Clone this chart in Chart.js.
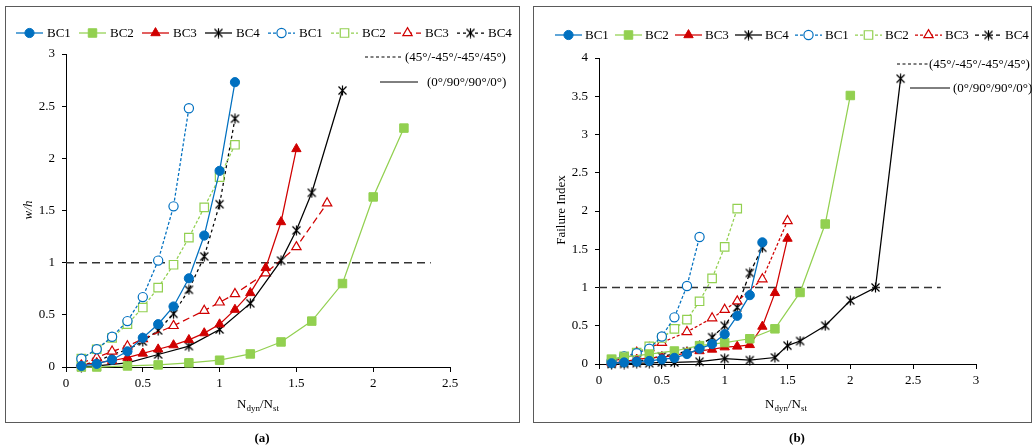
<!DOCTYPE html>
<html>
<head>
<meta charset="utf-8">
<script src="https://cdn.jsdelivr.net/npm/chart.js@4.4.1/dist/chart.umd.min.js"></script>
<style>
  html, body { margin: 0; padding: 0; background: #fff; }
  body { width: 1036px; height: 448px; position: relative; overflow: hidden;
         font-family: 'Liberation Serif', 'Times New Roman', serif; }
  .box { position: absolute; border: 1.5px solid #5a5a5a; box-sizing: border-box; }
  canvas { position: absolute; top: 0; }
  .tag { position: absolute; font-weight: bold; font-size: 13px; transform: translateX(-50%); color: #000; }
</style>
</head>
<body>
<div class="box" style="left:5px;top:6px;width:515px;height:417px"></div>
<div class="box" style="left:533px;top:6px;width:499px;height:417px"></div>
<canvas id="chartA" width="526" height="448" style="left:0"></canvas>
<canvas id="chartB" width="510" height="448" style="left:526px"></canvas>
<div class="tag" style="left:262px;top:430px">(a)</div>
<div class="tag" style="left:797px;top:430px">(b)</div>

<script>
// ---- Panel (a): normalised deflection w/h versus load ratio ----
// cross-ply (0°/90°/90°/0°), solid lines
const a_bc1_x = [0.1, 0.2, 0.3, 0.4, 0.5, 0.6, 0.7, 0.8, 0.9, 1.0, 1.1];
const a_bc1_y = [0.01, 0.03, 0.07, 0.15, 0.28, 0.41, 0.58, 0.85, 1.26, 1.88, 2.73];
const a_bc2_x = [0.1, 0.2, 0.4, 0.6, 0.8, 1.0, 1.2, 1.4, 1.6, 1.8, 2.0, 2.2];
const a_bc2_y = [0.0, 0.0, 0.01, 0.02, 0.04, 0.065, 0.125, 0.24, 0.44, 0.8, 1.63, 2.29];
const a_bc3_x = [0.1, 0.2, 0.3, 0.4, 0.5, 0.6, 0.7, 0.8, 0.9, 1.0, 1.1, 1.2, 1.3, 1.4, 1.5];
const a_bc3_y = [0.02, 0.04, 0.06, 0.09, 0.13, 0.17, 0.21, 0.26, 0.325, 0.41, 0.55, 0.71, 0.95, 1.39, 2.09];
const a_bc4_x = [0.1, 0.2, 0.4, 0.6, 0.8, 1.0, 1.2, 1.4, 1.5, 1.6, 1.8];
const a_bc4_y = [0.0, 0.01, 0.04, 0.12, 0.2, 0.36, 0.61, 1.02, 1.31, 1.67, 2.65];
// angle-ply (45°/-45°/-45°/45°), dashed lines
const a_bc1d_x = [0.1, 0.2, 0.3, 0.4, 0.5, 0.6, 0.7, 0.8];
const a_bc1d_y = [0.08, 0.17, 0.29, 0.44, 0.67, 1.02, 1.54, 2.48];
const a_bc2d_x = [0.1, 0.2, 0.3, 0.4, 0.5, 0.6, 0.7, 0.8, 0.9, 1.0, 1.1];
const a_bc2d_y = [0.08, 0.17, 0.28, 0.41, 0.57, 0.76, 0.98, 1.24, 1.53, 1.82, 2.13];
const a_bc3d_x = [0.1, 0.2, 0.3, 0.4, 0.5, 0.7, 0.9, 1.0, 1.1, 1.3, 1.5, 1.7];
const a_bc3d_y = [0.04, 0.09, 0.15, 0.2, 0.27, 0.395, 0.54, 0.62, 0.70, 0.90, 1.15, 1.57];
const a_bc4d_x = [0.1, 0.2, 0.3, 0.4, 0.5, 0.6, 0.7, 0.8, 0.9, 1.0, 1.1];
const a_bc4d_y = [0.02, 0.05, 0.12, 0.165, 0.245, 0.35, 0.51, 0.74, 1.06, 1.56, 2.38];

// ---- Panel (b): failure index versus load ratio ----
const b_bc1_x = [0.1, 0.2, 0.3, 0.4, 0.5, 0.6, 0.7, 0.8, 0.9, 1.0, 1.1, 1.2, 1.3];
const b_bc1_y = [0.01, 0.02, 0.03, 0.04, 0.06, 0.08, 0.13, 0.2, 0.26, 0.39, 0.63, 0.9, 1.59];
const b_bc2_x = [0.1, 0.2, 0.4, 0.6, 0.8, 1.0, 1.2, 1.4, 1.6, 1.8, 2.0];
const b_bc2_y = [0.06, 0.09, 0.13, 0.17, 0.24, 0.28, 0.33, 0.46, 0.935, 1.83, 3.51];
const b_bc3_x = [0.1, 0.2, 0.3, 0.4, 0.5, 0.6, 0.7, 0.8, 0.9, 1.0, 1.1, 1.2, 1.3, 1.4, 1.5];
const b_bc3_y = [0.01, 0.03, 0.06, 0.08, 0.09, 0.11, 0.15, 0.17, 0.19, 0.22, 0.23, 0.25, 0.49, 0.93, 1.64];
const b_bc4_x = [0.1, 0.2, 0.3, 0.4, 0.5, 0.6, 0.8, 1.0, 1.2, 1.4, 1.5, 1.6, 1.8, 2.0, 2.2, 2.4];
const b_bc4_y = [0.0, 0.0, 0.01, 0.01, 0.02, 0.02, 0.03, 0.07, 0.05, 0.085, 0.24, 0.3, 0.5, 0.83, 1.0, 3.73];
const b_bc1d_x = [0.1, 0.2, 0.3, 0.4, 0.5, 0.6, 0.7, 0.8];
const b_bc1d_y = [0.04, 0.1, 0.14, 0.2, 0.36, 0.61, 1.02, 1.66];
const b_bc2d_x = [0.1, 0.2, 0.3, 0.4, 0.5, 0.6, 0.7, 0.8, 0.9, 1.0, 1.1];
const b_bc2d_y = [0.06, 0.1, 0.15, 0.23, 0.34, 0.46, 0.58, 0.82, 1.12, 1.53, 2.03];
const b_bc3d_x = [0.1, 0.2, 0.3, 0.4, 0.5, 0.7, 0.9, 1.0, 1.1, 1.3, 1.5];
const b_bc3d_y = [0.03, 0.08, 0.15, 0.21, 0.28, 0.42, 0.6, 0.71, 0.82, 1.11, 1.87];
const b_bc4d_x = [0.1, 0.2, 0.3, 0.4, 0.5, 0.6, 0.7, 0.8, 0.9, 1.0, 1.1, 1.2, 1.3];
const b_bc4d_y = [0.01, 0.02, 0.03, 0.07, 0.1, 0.13, 0.165, 0.24, 0.35, 0.5, 0.74, 1.19, 1.52];

// threshold line (value 1) and where it stops on each panel
const limitLevel = 1;
const a_limitEnd = 2.375;
const b_limitEnd = 2.72;

// labels and ticks
const seriesNames = ['BC1', 'BC2', 'BC3', 'BC4', 'BC1', 'BC2', 'BC3', 'BC4'];
const layupNames = ['(45°/-45°/-45°/45°)', '(0°/90°/90°/0°)'];
const a_xTicks = [0, 0.5, 1, 1.5, 2, 2.5];
const a_yTicks = [0, 0.5, 1, 1.5, 2, 2.5, 3];
const b_xTicks = [0, 0.5, 1, 1.5, 2, 2.5, 3];
const b_yTicks = [0, 0.5, 1, 1.5, 2, 2.5, 3, 3.5, 4];
const a_yTitle = 'w/h';
const b_yTitle = 'Failure Index';

// ---- styling ----
const FONT = "'Liberation Serif', 'Times New Roman', serif";
Chart.defaults.font.family = FONT;
Chart.defaults.font.size = 13;
Chart.defaults.color = '#000';

const BLUE = '#0070C0', GREEN = '#92D050', RED = '#D00000', BLACK = '#000000';

function asteriskMarker() {
  const c = document.createElement('canvas');
  c.width = 11; c.height = 11;
  const g = c.getContext('2d');
  g.strokeStyle = '#000';
  g.lineWidth = 1.2;
  g.beginPath();
  g.moveTo(1.5, 1.5); g.lineTo(9.5, 9.5);
  g.moveTo(9.5, 1.5); g.lineTo(1.5, 9.5);
  g.moveTo(5.5, 0.5); g.lineTo(5.5, 10.5);
  g.stroke();
  return c;
}
const STAR = asteriskMarker();

function styleSet(redDash, blackDash) {
  return [
    { color: BLUE,  marker: 'circle',   r: 4.6, open: false, dash: [] },
    { color: GREEN, marker: 'rect',     r: 6.0, open: false, dash: [] },
    { color: RED,   marker: 'triangle', r: 5.4, open: false, dash: [] },
    { color: BLACK, marker: STAR,       r: 5.0, open: false, dash: [] },
    { color: BLUE,  marker: 'circle',   r: 4.6, open: true,  dash: [3, 2] },
    { color: GREEN, marker: 'rect',     r: 6.0, open: true,  dash: [3, 2] },
    { color: RED,   marker: 'triangle', r: 5.4, open: true,  dash: redDash },
    { color: BLACK, marker: STAR,       r: 5.0, open: true,  dash: blackDash }
  ];
}

function series(xs, ys, st, label) {
  return {
    label: label,
    data: xs.map((x, i) => ({ x: x, y: ys[i] })),
    showLine: true,
    borderColor: st.color,
    borderWidth: 1.25,
    borderDash: st.dash,
    pointStyle: st.marker,
    pointRadius: st.r,
    pointHoverRadius: st.r,
    pointBackgroundColor: st.open ? '#ffffff' : st.color,
    pointBorderColor: st.color,
    pointBorderWidth: st.open ? 1.2 : 1,
    tension: 0,
    clip: false,
    order: st.open ? 2 : 1
  };
}

function limitLine(xEnd) {
  return {
    label: 'limit',
    data: [{ x: 0, y: limitLevel }, { x: xEnd, y: limitLevel }],
    showLine: true,
    borderColor: '#333',
    borderWidth: 1.5,
    borderDash: [8, 5],
    pointRadius: 0,
    clip: false,
    order: 10
  };
}

function drawMarker(ctx, st, x, y) {
  ctx.save();
  ctx.setLineDash([]);
  ctx.fillStyle = st.open ? '#fff' : st.color;
  ctx.strokeStyle = st.color;
  ctx.lineWidth = st.open ? 1.2 : 1;
  Chart.helpers.drawPoint(ctx, { pointStyle: st.marker, radius: st.r, rotation: 0, borderWidth: ctx.lineWidth }, x, y);
  ctx.restore();
}

// legend row, layup key, axis titles
const panelDecor = {
  id: 'panelDecor',
  afterDraw(chart, args, o) {
    const ctx = chart.ctx;
    ctx.save();
    ctx.textBaseline = 'middle';
    ctx.fillStyle = '#000';
    ctx.font = '13px ' + FONT;

    o.styles.forEach((st, i) => {
      const x0 = o.rowX + i * o.rowStep;
      ctx.strokeStyle = st.color;
      ctx.lineWidth = 1.25;
      ctx.setLineDash(st.dash);
      ctx.beginPath();
      ctx.moveTo(x0, o.rowY);
      ctx.lineTo(x0 + o.lineLen, o.rowY);
      ctx.stroke();
      drawMarker(ctx, st, x0 + o.lineLen / 2, o.rowY);
      ctx.fillStyle = '#000';
      ctx.textAlign = 'left';
      ctx.fillText(seriesNames[i], x0 + o.lineLen + o.textGap, o.rowY + 0.5);
    });

    // layup key
    o.keys.forEach((k, i) => {
      ctx.strokeStyle = '#000';
      ctx.lineWidth = 1;
      ctx.setLineDash(i === 0 ? [3, 2.5] : []);
      ctx.beginPath();
      ctx.moveTo(k.x0, k.y);
      ctx.lineTo(k.x1, k.y);
      ctx.stroke();
      ctx.setLineDash([]);
      ctx.fillText(layupNames[i], k.tx, k.y + 0.5);
    });

    // x title with subscripts
    const parts = [['N', false], ['dyn', true], ['/N', false], ['st', true]];
    const big = '13px ' + FONT, small = '9px ' + FONT;
    let w = 0;
    parts.forEach(p => { ctx.font = p[1] ? small : big; w += ctx.measureText(p[0]).width; });
    let cx = o.xTitle.x - w / 2;
    parts.forEach(p => {
      ctx.font = p[1] ? small : big;
      ctx.fillText(p[0], cx, o.xTitle.y + (p[1] ? 3.5 : 0));
      cx += ctx.measureText(p[0]).width;
    });

    // y title
    ctx.translate(o.yTitle.x, o.yTitle.y);
    ctx.rotate(-Math.PI / 2);
    ctx.textAlign = 'center';
    ctx.font = (o.yTitle.italic ? 'italic ' : '') + '13px ' + FONT;
    ctx.fillText(o.yTitle.text, 0, 0);
    ctx.restore();
  }
};

function axis(min, max, ticks, fit, tickLen, pad) {
  return {
    type: 'linear',
    min: min, max: max,
    afterBuildTicks: s => { s.ticks = ticks.map(v => ({ value: v })); },
    afterFit: fit,
    grid: { display: true, drawOnChartArea: false, drawTicks: true, tickLength: tickLen, color: '#000', lineWidth: 1 },
    border: { display: true, color: '#000', width: 1 },
    ticks: { padding: pad, color: '#000', font: { size: 13 }, autoSkip: false, maxRotation: 0,
             callback: v => String(v) }
  };
}

function makeChart(id, cfg) {
  return new Chart(document.getElementById(id), {
    type: 'scatter',
    data: { datasets: cfg.datasets },
    options: {
      responsive: false,
      animation: false,
      devicePixelRatio: 1,
      events: [],
      layout: { padding: { top: cfg.padTop, right: cfg.padRight, left: 0, bottom: 0 } },
      plugins: { legend: { display: false }, tooltip: { enabled: false }, panelDecor: cfg.decor },
      scales: {
        x: axis(0, cfg.xMax, cfg.xTicks, s => { s.height = cfg.xAxisH; }, 5, 4),
        y: axis(0, cfg.yMax, cfg.yTicks, s => { s.width = cfg.yAxisW; }, 4, 7)
      }
    },
    plugins: [panelDecor]
  });
}

// panel (a)
const stA = styleSet([7, 4], [3, 3]);
const dataA = [
  [a_bc1_x, a_bc1_y], [a_bc2_x, a_bc2_y], [a_bc3_x, a_bc3_y], [a_bc4_x, a_bc4_y],
  [a_bc1d_x, a_bc1d_y], [a_bc2d_x, a_bc2d_y], [a_bc3d_x, a_bc3d_y], [a_bc4d_x, a_bc4d_y]
];
makeChart('chartA', {
  datasets: [limitLine(a_limitEnd)].concat(dataA.map((d, i) => series(d[0], d[1], stA[i], seriesNames[i]))),
  xMax: 2.5, yMax: 3, xTicks: a_xTicks, yTicks: a_yTicks,
  padTop: 54, padRight: 76, xAxisH: 81, yAxisW: 66,
  decor: {
    styles: stA, rowX: 16, rowStep: 63, rowY: 33, lineLen: 27, textGap: 4,
    keys: [{ x0: 365, x1: 402, y: 57, tx: 405 }, { x0: 380, x1: 418, y: 82, tx: 427 }],
    xTitle: { x: 258, y: 405 },
    yTitle: { x: 29, y: 210, text: a_yTitle, italic: true }
  }
});

// panel (b)
const stB = styleSet([3, 2], [4, 3]);
const dataB = [
  [b_bc1_x, b_bc1_y], [b_bc2_x, b_bc2_y], [b_bc3_x, b_bc3_y], [b_bc4_x, b_bc4_y],
  [b_bc1d_x, b_bc1d_y], [b_bc2d_x, b_bc2d_y], [b_bc3d_x, b_bc3d_y], [b_bc4d_x, b_bc4d_y]
];
makeChart('chartB', {
  datasets: [limitLine(b_limitEnd)].concat(dataB.map((d, i) => series(d[0], d[1], stB[i], seriesNames[i]))),
  xMax: 3, yMax: 4, xTicks: b_xTicks, yTicks: b_yTicks,
  padTop: 58, padRight: 60, xAxisH: 84, yAxisW: 73,
  decor: {
    styles: stB, rowX: 29, rowStep: 60, rowY: 35, lineLen: 27, textGap: 3,
    keys: [{ x0: 371, x1: 402, y: 64, tx: 403 }, { x0: 384, x1: 424, y: 88, tx: 427 }],
    xTitle: { x: 260, y: 405 },
    yTitle: { x: 36, y: 210, text: b_yTitle, italic: false }
  }
});
</script>
</body>
</html>
